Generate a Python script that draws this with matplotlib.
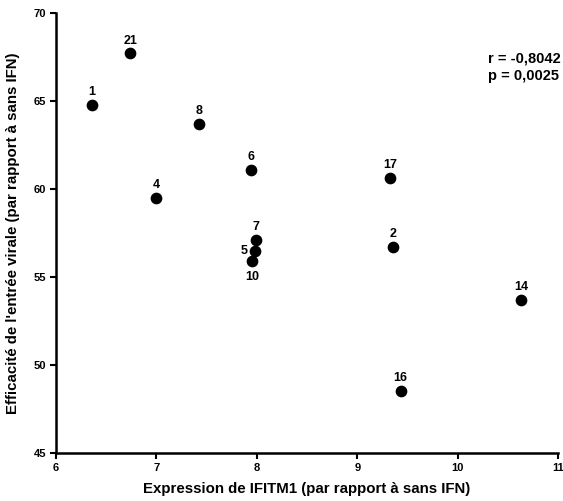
import matplotlib
matplotlib.use('Agg')
import matplotlib.pyplot as plt

plt.rcParams['font.family'] = ['Liberation Sans', 'DejaVu Sans']
plt.rcParams['font.weight'] = 'bold'

# donneurs
labels = ['1', '21', '8', '6', '4', '17', '7', '2', '5', '10', '14', '16']
expr = [6.36, 6.74, 7.42, 7.94, 7.00, 9.33, 7.99, 9.36, 7.98, 7.95, 10.63, 9.43]
effic = [64.8, 67.7, 63.7, 61.1, 59.5, 60.6, 57.1, 56.7, 56.5, 55.9, 53.7, 48.5]

fig = plt.figure(figsize=(5.63, 5.01), dpi=100)
ax = fig.add_axes([0.0995, 0.096, 0.892, 0.878])

ax.scatter(expr, effic, s=55, color='black', zorder=3)

for lab, x, y in zip(labels, expr, effic):
    if lab == '10':
        ax.annotate(lab, (x, y), xytext=(0, -7), textcoords='offset points',
                    ha='center', va='top', fontsize=9, fontweight='bold')
    elif lab == '5':
        ax.annotate(lab, (x, y), xytext=(-5, 0), textcoords='offset points',
                    ha='right', va='center', fontsize=9, fontweight='bold')
    else:
        ax.annotate(lab, (x, y), xytext=(0, 5), textcoords='offset points',
                    ha='center', va='bottom', fontsize=9, fontweight='bold')

ax.text(1.005, 0.876, 'r = -0,8042\np = 0,0025', transform=ax.transAxes,
        ha='right', va='center', multialignment='left', fontsize=10.5,
        fontweight='bold', linespacing=1.3)

ax.set_xlim(6, 11)
ax.set_ylim(45, 70)
ax.set_xticks([6, 7, 8, 9, 10, 11])
ax.set_yticks([45, 50, 55, 60, 65, 70])

for s in ['top', 'right']:
    ax.spines[s].set_visible(False)
for s in ['left', 'bottom']:
    ax.spines[s].set_linewidth(1.8)
ax.tick_params(width=1.5, length=4, labelsize=8, direction='out', pad=3)
for t in ax.get_xticklabels() + ax.get_yticklabels():
    t.set_fontweight('bold')

ax.set_xlabel('Expression de IFITM1 (par rapport à sans IFN)', fontsize=10.8,
              fontweight='bold', labelpad=7)
ax.set_ylabel("Efficacité de l'entrée virale (par rapport à sans IFN)", fontsize=10.8,
              fontweight='bold', labelpad=10)

fig.savefig('out.png', dpi=100)
